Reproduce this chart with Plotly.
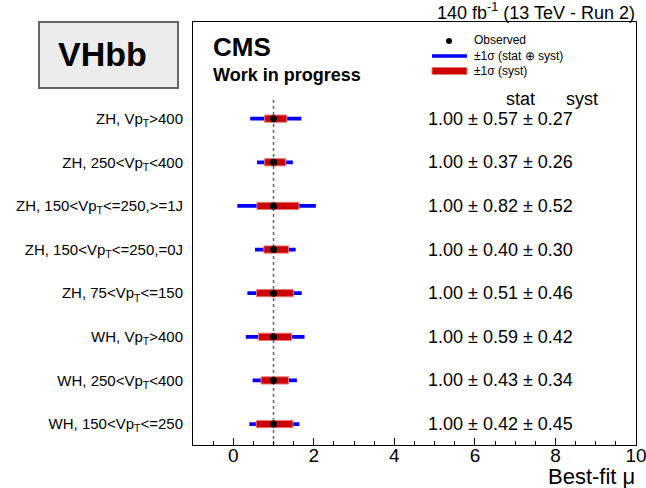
import numpy as np
import plotly.graph_objects as go

# ---------------- data ----------------
categories = [
    "ZH, Vp<sub>T</sub>&gt;400",
    "ZH, 250&lt;Vp<sub>T</sub>&lt;400",
    "ZH, 150&lt;Vp<sub>T</sub>&lt;=250,&gt;=1J",
    "ZH, 150&lt;Vp<sub>T</sub>&lt;=250,=0J",
    "ZH, 75&lt;Vp<sub>T</sub>&lt;=150",
    "WH, Vp<sub>T</sub>&gt;400",
    "WH, 250&lt;Vp<sub>T</sub>&lt;400",
    "WH, 150&lt;Vp<sub>T</sub>&lt;=250",
]
mu = [1.00, 1.00, 1.00, 1.00, 1.00, 1.00, 1.00, 1.00]
stat = [0.57, 0.37, 0.82, 0.40, 0.51, 0.59, 0.43, 0.42]
syst = [0.27, 0.26, 0.52, 0.30, 0.46, 0.42, 0.34, 0.45]
# asymmetric band extents
tot_lo = [0.58, 0.41, 0.90, 0.46, 0.65, 0.69, 0.52, 0.60]
tot_hi = [0.69, 0.48, 1.05, 0.55, 0.70, 0.77, 0.58, 0.64]
syst_lo = [0.22, 0.22, 0.41, 0.24, 0.42, 0.37, 0.31, 0.43]
syst_hi = [0.33, 0.30, 0.63, 0.37, 0.49, 0.45, 0.37, 0.48]
x_ticks = [0, 2, 4, 6, 8, 10]
sm_mu = 1.0

# ---------------- layout geometry ----------------
W, H = 646, 488
L, R, T, B = 193, 10, 22, 43
PW, PH = W - L - R, H - T - B


def px(x):
    return (x - L) / PW


def py(y):
    return (H - B - y) / PH


n = len(categories)
ypos = np.arange(n)[::-1].astype(float)
mu_a = np.array(mu)
y_range = [-0.48, 9.215]
FONT = "Liberation Sans, Arial, Helvetica, sans-serif"

fig = go.Figure()

# reference dashed line at mu = 1
fig.add_trace(go.Scatter(
    x=[sm_mu, sm_mu], y=[y_range[0], ypos.max() + 0.5], mode="lines",
    line=dict(color="#666666", width=1.5, dash="3px,3px"),
    hoverinfo="skip", showlegend=False))

# total uncertainty (blue)
fig.add_trace(go.Bar(
    orientation="h", y=ypos, x=np.array(tot_lo) + np.array(tot_hi),
    base=mu_a - np.array(tot_lo), width=0.085,
    marker=dict(color="#0000ff", line=dict(width=0)), showlegend=False))

# syst uncertainty (red)
fig.add_trace(go.Bar(
    orientation="h", y=ypos, x=np.array(syst_lo) + np.array(syst_hi),
    base=mu_a - np.array(syst_lo), width=0.165,
    marker=dict(color="#cc0000", line=dict(width=1, color="#e87878")),
    showlegend=False))

# observed
fig.add_trace(go.Scatter(
    x=mu, y=ypos, mode="markers",
    marker=dict(color="black", size=7), showlegend=False))

annotations = []
for i in range(n):
    annotations.append(dict(
        xref="paper", yref="y", x=px(426), y=ypos[i],
        text=f"{mu[i]:.2f} ± {stat[i]:.2f} ± {syst[i]:.2f}",
        showarrow=False, xanchor="left", yanchor="middle",
        font=dict(size=18, color="black", family=FONT)))

annotations += [
    dict(xref="paper", yref="paper", x=px(520), y=py(99), text="stat",
         showarrow=False, xanchor="center", yanchor="middle",
         font=dict(size=18, color="black", family=FONT)),
    dict(xref="paper", yref="paper", x=px(582), y=py(99), text="syst",
         showarrow=False, xanchor="center", yanchor="middle",
         font=dict(size=18, color="black", family=FONT)),
    dict(xref="paper", yref="paper", x=px(637), y=py(12),
         text="140 fb<sup>-1</sup> (13 TeV - Run 2)",
         showarrow=False, xanchor="right", yanchor="middle",
         font=dict(size=18, color="black", family=FONT)),
    dict(xref="paper", yref="paper", x=px(211), y=py(47), text="<b>CMS</b>",
         showarrow=False, xanchor="left", yanchor="middle",
         font=dict(size=26, color="black", family=FONT)),
    dict(xref="paper", yref="paper", x=px(211), y=py(75), text="<b>Work in progress</b>",
         showarrow=False, xanchor="left", yanchor="middle",
         font=dict(size=18, color="black", family=FONT)),
    dict(xref="paper", yref="paper", x=px(102), y=py(54), text="<b>VHbb</b>",
         showarrow=False, xanchor="center", yanchor="middle",
         font=dict(size=34, color="black", family=FONT)),
    dict(xref="paper", yref="paper", x=px(637), y=py(476), text="Best-fit μ",
         showarrow=False, xanchor="right", yanchor="middle",
         font=dict(size=22, color="black", family=FONT)),
    dict(xref="paper", yref="paper", x=px(472), y=py(40), text="Observed",
         showarrow=False, xanchor="left", yanchor="middle",
         font=dict(size=12, color="black", family=FONT)),
    dict(xref="paper", yref="paper", x=px(472), y=py(56), text="±1σ (stat ⊕ syst)",
         showarrow=False, xanchor="left", yanchor="middle",
         font=dict(size=12, color="black", family=FONT)),
    dict(xref="paper", yref="paper", x=px(472), y=py(71), text="±1σ (syst)",
         showarrow=False, xanchor="left", yanchor="middle",
         font=dict(size=12, color="black", family=FONT)),
]

shapes = [
    # VHbb box
    dict(type="rect", xref="paper", yref="paper",
         x0=px(39), x1=px(178), y0=py(88), y1=py(22),
         fillcolor="#ececec", line=dict(color="#666666", width=2), layer="above"),
    # legend entries
    dict(type="circle", xref="paper", yref="paper",
         x0=px(446), x1=px(452), y0=py(44), y1=py(38),
         fillcolor="black", line=dict(width=0)),
    dict(type="line", xref="paper", yref="paper",
         x0=px(432), x1=px(467), y0=py(56), y1=py(56),
         line=dict(color="#0000ff", width=3.5)),
    dict(type="rect", xref="paper", yref="paper",
         x0=px(432), x1=px(467), y0=py(74.5), y1=py(67.5),
         fillcolor="#cc0000", line=dict(color="#e87878", width=1)),
]

fig.update_layout(
    width=W, height=H,
    margin=dict(l=L, r=R, t=T, b=B, pad=0, autoexpand=False),
    paper_bgcolor="white", plot_bgcolor="white",
    barmode="overlay", showlegend=False,
    font=dict(family=FONT, color="black"),
    annotations=annotations, shapes=shapes,
    xaxis=dict(
        range=[-1, 10.0001], tickvals=x_ticks, ticktext=[str(v) for v in x_ticks],
        ticks="inside", ticklen=7, tickwidth=1, tickcolor="black",
        minor=dict(dtick=0.5, ticks="inside", ticklen=4, tickwidth=1, tickcolor="black"),
        tickfont=dict(size=19, color="black", family=FONT),
        ticklabelstandoff=-7, ticklabeloverflow="allow", automargin=False,
        showline=True, mirror=True, linecolor="black", linewidth=1,
        showgrid=False, zeroline=False),
    yaxis=dict(
        range=y_range, tickvals=ypos, ticktext=categories, ticks="",
        tickfont=dict(size=15, color="black", family=FONT),
        ticklabelstandoff=6, automargin=False,
        showline=True, mirror=True, linecolor="black", linewidth=1,
        showgrid=False, zeroline=False),
)

fig.write_html("out.html")
